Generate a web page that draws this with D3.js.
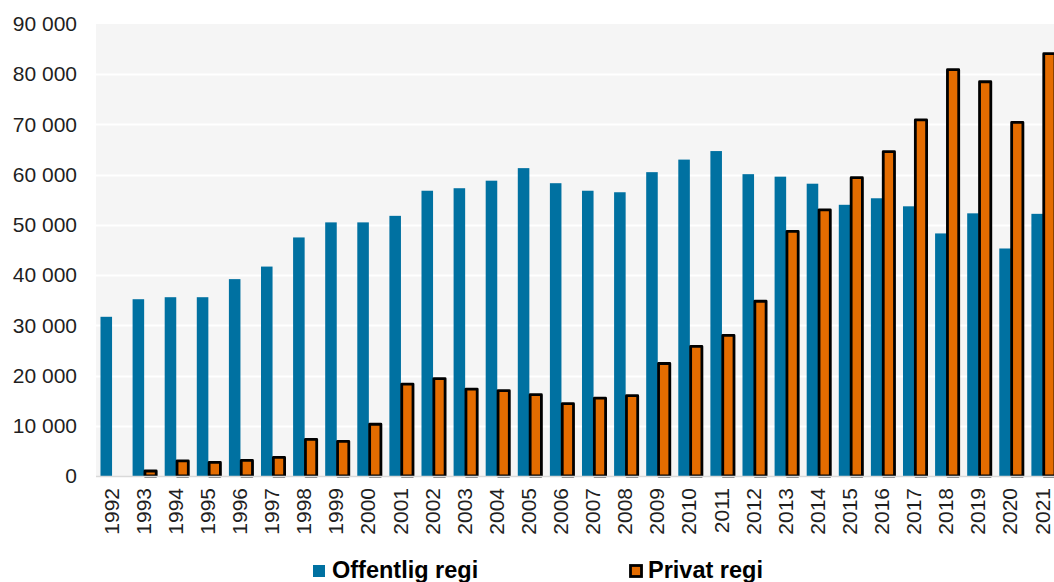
<!DOCTYPE html>
<html>
<head>
<meta charset="utf-8">
<script src="https://cdn.jsdelivr.net/npm/d3@7"></script>
<style>
  html, body { margin: 0; padding: 0; background: #ffffff; }
  svg { display: block; font-family: "Liberation Sans", Arial, sans-serif; }
</style>
</head>
<body>
<svg id="chart" width="1054" height="582"></svg>
<script>
// Years on the x axis
const years = ["1992","1993","1994","1995","1996","1997","1998","1999","2000","2001",
  "2002","2003","2004","2005","2006","2007","2008","2009","2010","2011",
  "2012","2013","2014","2015","2016","2017","2018","2019","2020","2021"];

// Series values
const offentligRegi = [31700, 35200, 35600, 35600, 39200, 41700, 47500, 50500, 50500, 51800,
  56800, 57300, 58800, 61300, 58300, 56800, 56500, 60500, 63000, 64700,
  60100, 59600, 58200, 54000, 55300, 53700, 48300, 52300, 45300, 52200];
const privatRegi = [0, 1000, 3000, 2700, 3100, 3700, 7300, 6900, 10300, 18300,
  19400, 17300, 17000, 16200, 14400, 15500, 16000, 22400, 25800, 28000,
  34800, 48700, 53000, 59400, 64600, 70900, 80900, 78500, 70400, 84100];

// Series names and y tick values
const seriesNames = ["Offentlig regi", "Privat regi"];
const yTicks = [0, 10000, 20000, 30000, 40000, 50000, 60000, 70000, 80000, 90000];

const colors = { blue: "#0071a1", orange: "#e46c00" };

const svg = d3.select("#chart");
const plot = { left: 96, right: 1059, top: 24, bottom: 476 };

const x0 = d3.scaleBand()
  .domain(years)
  .range([plot.left, plot.right])
  .paddingInner(0.28)
  .paddingOuter(0.14);

const x1 = d3.scaleBand()
  .domain(seriesNames)
  .range([0, x0.bandwidth()])
  .padding(0);

const y = d3.scaleLinear()
  .domain([0, 90000])
  .range([plot.bottom, plot.top]);

// Plot background
svg.append("rect")
  .attr("x", plot.left)
  .attr("y", y(90000))
  .attr("width", plot.right - plot.left)
  .attr("height", y(0) - y(90000))
  .attr("fill", "#f5f5f5");

// Horizontal gridlines
svg.append("g")
  .selectAll("line")
  .data(yTicks.filter(d => d > 0 && d < 90000))
  .join("line")
  .attr("x1", plot.left)
  .attr("x2", plot.right)
  .attr("y1", d => Math.round(y(d)) + 0.5)
  .attr("y2", d => Math.round(y(d)) + 0.5)
  .attr("stroke", "#ffffff")
  .attr("stroke-width", 2);

// Y axis labels
const fmt = d => d3.format(",")(d).replace(/,/g, " ");
const yAxis = d3.axisLeft(y).tickValues(yTicks).tickFormat(fmt).tickSize(0).tickPadding(19);
const gy = svg.append("g").attr("transform", `translate(${plot.left},0)`).call(yAxis);
gy.select(".domain").remove();
gy.selectAll("text")
  .attr("font-size", 21)
  .attr("fill", "#1f1f1f")
  .attr("font-family", "'Liberation Sans', Arial, sans-serif");

// Bars: public
const groups = svg.append("g");
groups.selectAll("rect.off")
  .data(years)
  .join("rect")
  .attr("class", "off")
  .attr("x", (d) => x0(d) + x1(seriesNames[0]))
  .attr("y", (d, i) => y(offentligRegi[i]))
  .attr("width", x1.bandwidth())
  .attr("height", (d, i) => y(0) - y(offentligRegi[i]))
  .attr("fill", colors.blue);

// Bars: private (outlined)
groups.selectAll("rect.priv")
  .data(years.filter((d, i) => privatRegi[i] > 0))
  .join("rect")
  .attr("class", "priv")
  .attr("x", d => x0(d) + x1(seriesNames[1]) + 0.8)
  .attr("y", d => y(privatRegi[years.indexOf(d)]))
  .attr("width", x1.bandwidth() - 0.3)
  .attr("height", d => y(0) - y(privatRegi[years.indexOf(d)]))
  .attr("fill", colors.orange)
  .attr("stroke", "#000000")
  .attr("stroke-width", 2.8)
  .attr("stroke-linejoin", "round");

// Baseline
svg.append("line")
  .attr("x1", plot.left).attr("x2", plot.right)
  .attr("y1", y(0) + 0.5).attr("y2", y(0) + 0.5)
  .attr("stroke", "#d9d9d9").attr("stroke-width", 1.5);

// X axis labels (rotated)
const xAxis = d3.axisBottom(x0).tickSize(0).tickPadding(0);
const gx = svg.append("g").attr("transform", `translate(0,${plot.bottom})`).call(xAxis);
gx.select(".domain").remove();
gx.selectAll("text")
  .attr("font-size", 21)
  .attr("fill", "#1f1f1f")
  .attr("font-family", "'Liberation Sans', Arial, sans-serif")
  .attr("text-anchor", "end")
  .attr("transform", "translate(-1,12) rotate(-90)")
  .attr("x", 0)
  .attr("y", 0)
  .attr("dy", "0.36em");

// Legend
const legendItems = [
  { name: seriesNames[0], x: 313, fill: colors.blue, stroke: "none" },
  { name: seriesNames[1], x: 629, fill: colors.orange, stroke: "#000000" }
];
const lg = svg.append("g");
legendItems.forEach(it => {
  lg.append("rect")
    .attr("x", it.stroke === "none" ? it.x : it.x + 1.5)
    .attr("y", it.stroke === "none" ? 565 : 565.5)
    .attr("width", it.stroke === "none" ? 12 : 11)
    .attr("height", it.stroke === "none" ? 12 : 11)
    .attr("fill", it.fill)
    .attr("stroke", it.stroke)
    .attr("stroke-width", 2.8);
  lg.append("text")
    .attr("x", it.x + 19)
    .attr("y", 578)
    .attr("font-size", 23.5)
    .attr("font-weight", "bold")
    .attr("fill", "#000000")
    .text(it.name);
});
</script>
</body>
</html>
